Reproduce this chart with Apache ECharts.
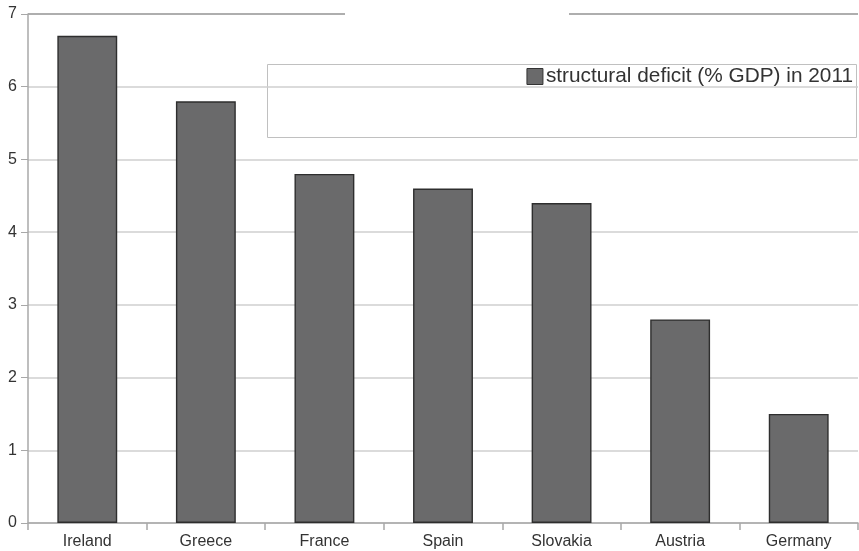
<!DOCTYPE html>
<html><head><meta charset="utf-8">
<script src="https://cdn.jsdelivr.net/npm/echarts@6/dist/echarts.min.js"></script>
<style>html,body{margin:0;padding:0;background:#fff}#c{width:859px;height:551px}</style>
</head><body><div id="c"></div>
<script>
var categories = ['Ireland','Greece','France','Spain','Slovakia','Austria','Germany'];
var deficit2011 = [6.7, 5.8, 4.8, 4.6, 4.4, 2.8, 1.5];
var yTicks = [0,1,2,3,4,5,6,7];
var seriesName = 'structural deficit (% GDP) in 2011';

var chart = echarts.init(document.getElementById('c'), null, {renderer:'canvas'});
var font = '"Liberation Sans", Arial, sans-serif';
chart.setOption({
  animation:false,
  backgroundColor:'#fff',
  grid:{left:28, right:1, top:14, bottom:28, containLabel:false},
  legend:{
    data:[seriesName], right:6, top:66, padding:0, itemWidth:16, itemHeight:16, itemGap:0,
    icon:'rect',
    textStyle:{fontFamily:font, fontSize:20.8, color:'#333', padding:[0,0,0,-2]},
    itemStyle:{borderColor:'#333', borderWidth:1}
  },
  xAxis:{
    type:'category', data:categories,
    axisLine:{lineStyle:{color:'#a8a8a8', width:1.5}},
    axisTick:{show:true, length:7, lineStyle:{color:'#a8a8a8', width:1.5}},
    axisLabel:{fontFamily:font, fontSize:16, color:'#333', margin:11}
  },
  yAxis:{
    type:'value', min:0, max:7, interval:1,
    axisLine:{show:true, lineStyle:{color:'#a8a8a8', width:1.5}},
    axisTick:{show:true, length:7, lineStyle:{color:'#a8a8a8'}},
    axisLabel:{fontFamily:font, fontSize:16, color:'#333', margin:11,
      formatter:function(v){return yTicks.indexOf(v)>=0?String(v):'';}},
    splitLine:{show:true, lineStyle:{color:['#cfcfcf','#cfcfcf','#cfcfcf','#cfcfcf','#cfcfcf','#cfcfcf','#cfcfcf','#939393'], width:1.5}}
  },
  series:[{
    name:seriesName, type:'bar', data:deficit2011, barWidth:'50.5%',
    itemStyle:{color:'#6a6a6b', borderColor:'#2e2e2e', borderWidth:1.4}
  }],
  graphic:[
    {type:'rect', z:-1, shape:{x:267.5, y:64.5, width:589, height:73}, style:{fill:'#fff', stroke:'#c0c0c0', lineWidth:1}},
    {type:'rect', z:100, shape:{x:345, y:10, width:224, height:8}, style:{fill:'#fff'}}
  ]
});
</script></body></html>
